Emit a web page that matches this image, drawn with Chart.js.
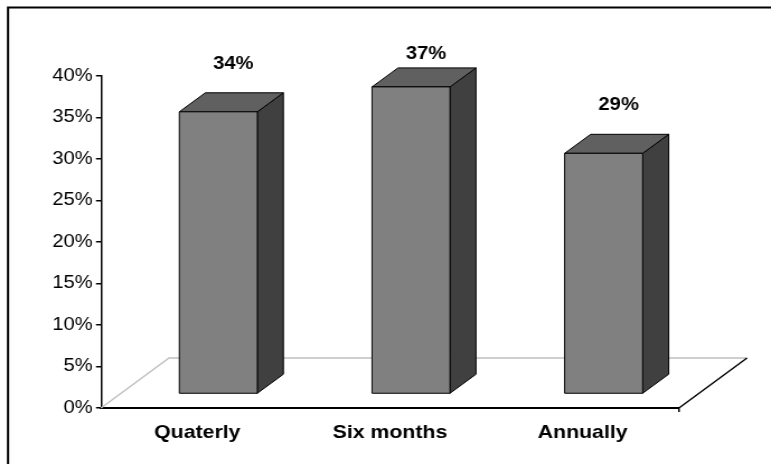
<!DOCTYPE html>
<html lang="en">
<head>
<meta charset="UTF-8">
<title>Review frequency</title>
<script src="https://cdn.jsdelivr.net/npm/chart.js@4/dist/chart.umd.min.js"></script>
<style>
  body { margin: 0; background: #fff; overflow: hidden; }
  /* the whole chart is a little wider than tall, text included */
  #wrap { width: 689px; height: 464px; transform: scaleX(1.119); transform-origin: 0 0; }
</style>
</head>
<body>
<div id="wrap"><canvas id="chart" width="689" height="464"></canvas></div>
<script>
// data
const categories = ['Quaterly', 'Six months', 'Annually'];
const values = [34, 37, 29];
const yMin = 0;
const yMax = 40;
const yStep = 5;

const SX = 771 / 689;
const FONT = 'Arial, "Liberation Sans", sans-serif';

// 3d look: floor depth, bar depth, and how far back the bars sit on the floor
const floor = { dx: 68 / SX, dy: -50 };
const depth = { dx: 26 / SX, dy: -19 };
const shift = { dx: 21 / SX, dy: -14 };

const frontColor = '#808080';
const topColor = '#606060';
const sideColor = '#404040';

function poly(ctx, pts, fill) {
  ctx.beginPath();
  ctx.moveTo(pts[0][0], pts[0][1]);
  for (let i = 1; i < pts.length; i++) ctx.lineTo(pts[i][0], pts[i][1]);
  ctx.closePath();
  ctx.fillStyle = fill;
  ctx.fill();
  ctx.stroke();
}

const box3d = {
  id: 'box3d',
  beforeDraw(chart) {
    const ctx = chart.ctx;
    ctx.save();
    ctx.strokeStyle = '#000';
    ctx.lineWidth = 2;
    ctx.beginPath();
    ctx.moveTo(8 / SX, 464);
    ctx.lineTo(8 / SX, 7.5);
    ctx.lineTo(chart.width, 7.5);
    ctx.stroke();
    ctx.restore();
  },
  beforeDatasetsDraw(chart) {
    const ctx = chart.ctx;
    const a = chart.chartArea;
    ctx.save();
    // back edges of the floor
    ctx.strokeStyle = '#c0c0c0';
    ctx.lineWidth = 1.5;
    ctx.beginPath();
    ctx.moveTo(a.left, a.bottom);
    ctx.lineTo(a.left + floor.dx, a.bottom + floor.dy);
    ctx.lineTo(a.right + floor.dx, a.bottom + floor.dy);
    ctx.stroke();
    // right edge of the floor
    ctx.strokeStyle = '#000';
    ctx.lineWidth = 1.5;
    ctx.beginPath();
    ctx.moveTo(a.right, a.bottom);
    ctx.lineTo(a.right + floor.dx, a.bottom + floor.dy);
    ctx.moveTo(a.right, a.bottom);
    ctx.lineTo(a.right, a.bottom + 4);
    ctx.stroke();
    ctx.restore();
  },
  afterDatasetsDraw(chart) {
    const ctx = chart.ctx;
    const a = chart.chartArea;
    const meta = chart.getDatasetMeta(0);
    ctx.save();
    ctx.strokeStyle = '#000';
    ctx.lineWidth = 1;
    ctx.lineJoin = 'round';
    meta.data.forEach((bar, i) => {
      const L = bar.x - bar.width / 2 + shift.dx;
      const R = bar.x + bar.width / 2 + shift.dx;
      const T = bar.y + shift.dy;
      const B = bar.base + shift.dy;
      poly(ctx, [[R, T], [R + depth.dx, T + depth.dy], [R + depth.dx, B + depth.dy], [R, B]], sideColor);
      poly(ctx, [[L, T], [L + depth.dx, T + depth.dy], [R + depth.dx, T + depth.dy], [R, T]], topColor);
      poly(ctx, [[L, T], [R, T], [R, B], [L, B]], frontColor);

      // value label, kept inside the top margin
      ctx.fillStyle = '#000';
      ctx.font = 'bold 18px ' + FONT;
      ctx.textAlign = 'center';
      ctx.textBaseline = 'middle';
      const ly = Math.max(T - 48, a.top - 22);
      ctx.fillText(values[i] + '%', bar.x + shift.dx + 15 / SX, ly);
    });
    ctx.restore();
  }
};

new Chart(document.getElementById('chart'), {
  type: 'bar',
  data: {
    labels: categories,
    datasets: [{
      data: values,
      backgroundColor: 'rgba(0,0,0,0)',
      borderWidth: 0,
      barPercentage: 0.405,
      categoryPercentage: 1
    }]
  },
  options: {
    responsive: false,
    devicePixelRatio: 1,
    animation: false,
    layout: { padding: { top: 76, right: 689 - 679 / SX, bottom: 0, left: 0 } },
    plugins: { legend: { display: false }, tooltip: { enabled: false } },
    scales: {
      x: {
        grid: { display: false, drawTicks: false },
        border: { display: true, color: '#000', width: 2 },
        ticks: { color: '#000', font: { family: FONT, size: 19, weight: 'bold' }, padding: 13, maxRotation: 0 },
        afterFit(scale) { scale.height = 56; }
      },
      y: {
        min: yMin,
        max: yMax,
        grid: { display: true, drawOnChartArea: false, drawTicks: true, tickLength: 4.5, color: '#000', lineWidth: 1.5 },
        border: { display: true, color: '#000', width: 1.5 },
        ticks: {
          stepSize: yStep,
          color: '#000',
          padding: 3,
          font: { family: FONT, size: 18 },
          callback: v => v + '%'
        },
        afterFit(scale) { scale.width = 101 / SX; }
      }
    }
  },
  plugins: [box3d]
});
</script>
</body>
</html>
